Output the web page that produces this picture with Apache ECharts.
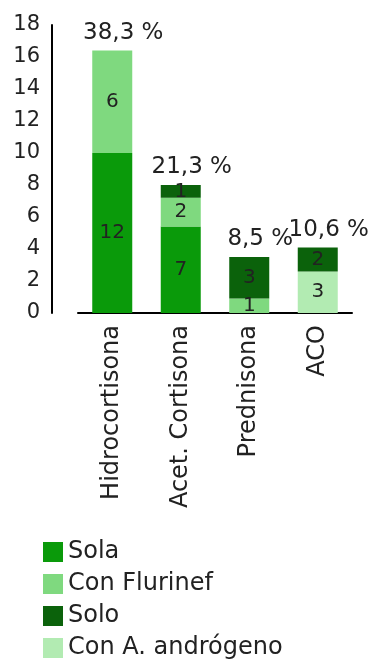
<!DOCTYPE html>
<html lang="es">
<head>
<meta charset="utf-8">
<title>Tratamiento</title>
<style>
  html, body { margin: 0; padding: 0; background: #fff; }
  #chart { width: 379px; height: 660px; }
</style>
</head>
<body>
<div id="chart"></div>
<script src="https://cdn.jsdelivr.net/npm/echarts@6/dist/echarts.min.js"></script>
<script>
// categorias y valores
var categories = ['Hidrocortisona', 'Acet. Cortisona', 'Prednisona', 'ACO'];
// alturas de las barras tal como se dibujan
var sola = [10.0, 5.4, '-', '-'];
var conFlurinef = [6.4, 1.8, 0.9, '-'];
var conAndrogeno = ['-', '-', '-', 2.6];
var solo = ['-', 0.8, 2.6, 1.5];
// numeros que se muestran dentro de cada tramo
var solaN = [12, 7, '', ''];
var conFlurinefN = [6, 2, 1, ''];
var conAndrogenoN = ['', '', '', 3];
var soloN = ['', 1, 3, 2];
// porcentaje sobre cada barra
var pct = ['38,3 %', '21,3 %', '8,5 %', '10,6 %'];
var yTicks = [0, 18, 2];

var font = 'DejaVu Sans';
var chart = echarts.init(document.getElementById('chart'));

function seg(name, data, counts, color) {
  return {
    name: name,
    type: 'bar',
    stack: 'total',
    barWidth: 40,
    data: data,
    itemStyle: { color: color },
    label: {
      show: true,
      position: 'inside',
      fontFamily: font,
      fontSize: 20,
      color: '#222',
      formatter: function (p) { return counts[p.dataIndex]; }
    }
  };
}

var totals = categories.map(function () { return 0; });

chart.setOption({
  animation: false,
  grid: { left: 78, right: 27, top: 25, bottom: 347 },
  legend: {
    orient: 'vertical',
    left: 43,
    top: 540,
    height: 200,
    padding: 0,
    itemWidth: 20,
    itemHeight: 20,
    itemGap: 8,
    icon: 'rect',
    textStyle: { fontFamily: font, fontSize: 24, lineHeight: 20, color: '#222' },
    data: ['Sola', 'Con Flurinef', 'Solo', 'Con A. andrógeno']
  },
  xAxis: {
    type: 'category',
    data: categories,
    axisLine: { lineStyle: { color: '#000', width: 2 } },
    axisTick: { show: false },
    axisLabel: {
      rotate: 90,
      margin: 12,
      fontFamily: font,
      fontSize: 24,
      color: '#222',
      interval: 0
    }
  },
  yAxis: {
    type: 'value',
    min: yTicks[0],
    max: yTicks[1],
    interval: yTicks[2],
    offset: 26,
    splitLine: { show: false },
    axisLine: { show: true, lineStyle: { color: '#000', width: 2 } },
    axisTick: { show: false },
    axisLabel: { margin: 12, fontFamily: font, fontSize: 21, color: '#222' }
  },
  series: [
    seg('Sola', sola, solaN, '#0a9a0a'),
    seg('Con Flurinef', conFlurinef, conFlurinefN, '#7fd97f'),
    seg('Con A. andrógeno', conAndrogeno, conAndrogenoN, '#b2ebb2'),
    seg('Solo', solo, soloN, '#0b620b'),
    {
      name: 'pct',
      type: 'bar',
      stack: 'total',
      barWidth: 40,
      data: totals,
      itemStyle: { color: 'transparent' },
      label: {
        show: true,
        position: 'top',
        distance: 6,
        offset: [11, 0],
        fontFamily: font,
        fontSize: 23,
        color: '#222',
        formatter: function (p) { return pct[p.dataIndex]; }
      }
    }
  ]
});
</script>
</body>
</html>
